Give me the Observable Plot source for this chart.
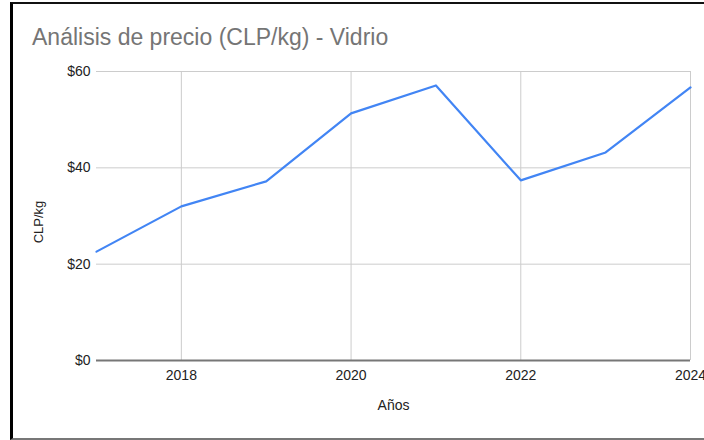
<!DOCTYPE html>
<html>
<head>
<meta charset="utf-8">
<script src="https://cdn.jsdelivr.net/npm/d3@7"></script>
<script src="https://cdn.jsdelivr.net/npm/@observablehq/plot@0.6"></script>
<style>
  html, body { margin: 0; padding: 0; background: #fff; width: 704px; height: 440px; overflow: hidden; font-family: "Liberation Sans", Arial, sans-serif; }
  #frame { position: absolute; left: 10px; top: 2px; width: 700px; height: 438px; border-left: 3px solid #000; border-top: 2px solid #111; border-bottom: 2px solid #777; box-sizing: border-box; }
  #title { position: absolute; left: 32px; top: 26px; font-size: 23px; line-height: 23px; color: #757575; white-space: nowrap; }
  #chart { position: absolute; left: 0; top: 0; }
</style>
</head>
<body>
<div id="frame"></div>
<div id="title">Análisis de precio (CLP/kg) - Vidrio</div>
<div id="chart"></div>
<script>
const years = [2017, 2018, 2019, 2020, 2021, 2022, 2023, 2024];
const prices = [22.6, 32.0, 37.2, 51.3, 57.1, 37.4, 43.2, 56.7];
const xTicks = [2018, 2020, 2022, 2024];
const yTicks = [0, 20, 40, 60];
const yLabel = "CLP/kg";
const xLabel = "Años";

const data = years.map((y, i) => ({year: y, price: prices[i]}));

const chart = Plot.plot({
  width: 704,
  height: 440,
  marginLeft: 96,
  marginRight: 14,
  marginTop: 71,
  marginBottom: 80,
  style: {fontFamily: "'Liberation Sans', Arial, sans-serif", fontSize: "14px", color: "#222", background: "transparent", overflow: "visible"},
  x: {domain: [2017, 2024]},
  y: {domain: [0, 60]},
  marks: [
    Plot.gridY(yTicks.filter(d => d !== 0), {stroke: "#cccccc", strokeOpacity: 1, strokeWidth: 1}),
    Plot.gridX(xTicks, {stroke: "#cccccc", strokeOpacity: 1, strokeWidth: 1}),
    Plot.axisY(yTicks, {tickSize: 0, tickPadding: 6, tickFormat: d => "$" + d, label: null, fontSize: 14, fill: "#222"}),
    Plot.axisX(xTicks, {tickSize: 0, tickPadding: 10, tickFormat: d => String(d), label: null, fontSize: 14, fill: "#222"}),
    Plot.ruleY([0], {stroke: "#777", strokeWidth: 2}),
    Plot.line(data, {x: "year", y: "price", stroke: "#4285F4", strokeWidth: 2.2}),
    Plot.text([yLabel], {frameAnchor: "left", textAnchor: "middle", rotate: -90, dx: -58, dy: 6, fontSize: 13, fill: "#222"}),
    Plot.text([xLabel], {frameAnchor: "bottom", dy: 49, fontSize: 14, fill: "#222"})
  ]
});
document.getElementById("chart").appendChild(chart);
</script>
</body>
</html>
